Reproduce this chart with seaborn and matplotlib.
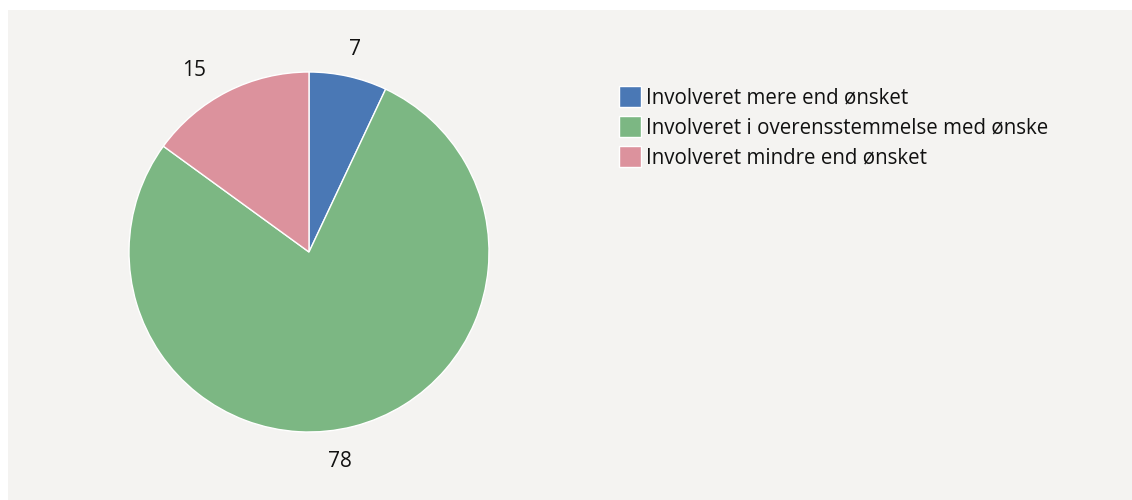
import matplotlib
matplotlib.use("Agg")
import matplotlib.pyplot as plt
import seaborn as sns
from matplotlib.patches import Rectangle

categories = ["Involveret mere end ønsket",
              "Involveret i overensstemmelse med ønske",
              "Involveret mindre end ønsket"]
values = [7, 78, 15]
colors = ["#4a78b5", "#7cb783", "#dc929d"]
label_nudges = [(0.0, -0.017), (-0.117, -0.033), (-0.106, -0.033)]

sns.set_theme(style="white")
plt.rcParams['font.family'] = ['Open Sans', 'DejaVu Sans']

W, H = 1132, 500
fig = plt.figure(figsize=(W / 100, H / 100), dpi=100, facecolor="white")
fig.patches.append(Rectangle((8 / W, 0), 1 - 8 / W, 1 - 10 / H, transform=fig.transFigure,
                             facecolor="#f4f3f1", edgecolor="none", zorder=-10))

cx, cy, r = 309, 248, 180
ax = fig.add_axes([(cx - r) / W, (cy - r) / H, 2 * r / W, 2 * r / H])
ax.set_facecolor("none")
wedges, texts, autotexts = ax.pie(
    values, colors=colors, startangle=90, counterclock=False,
    wedgeprops=dict(edgecolor="white", linewidth=1),
    autopct=lambda p: f"{p:.0f}", pctdistance=1.17,
    textprops=dict(fontsize=15, color="#111111"))
for t, (dx, dy) in zip(autotexts, label_nudges):
    x, y = t.get_position()
    t.set_position((x + dx, y + dy))
ax.set_xlim(-1, 1)
ax.set_ylim(-1, 1)
ax.set_aspect("equal")
ax.axis("off")

leg = fig.legend(wedges, categories, loc="upper left",
                 bbox_to_anchor=(611 / W, 1 - 78 / H), frameon=False,
                 fontsize=14.8, handlelength=1.05, handleheight=1.15,
                 handletextpad=0.25, labelspacing=0.38, borderaxespad=0)
for t in leg.get_texts():
    t.set_color("#111111")

fig.savefig("out.png", dpi=100, facecolor="white")
